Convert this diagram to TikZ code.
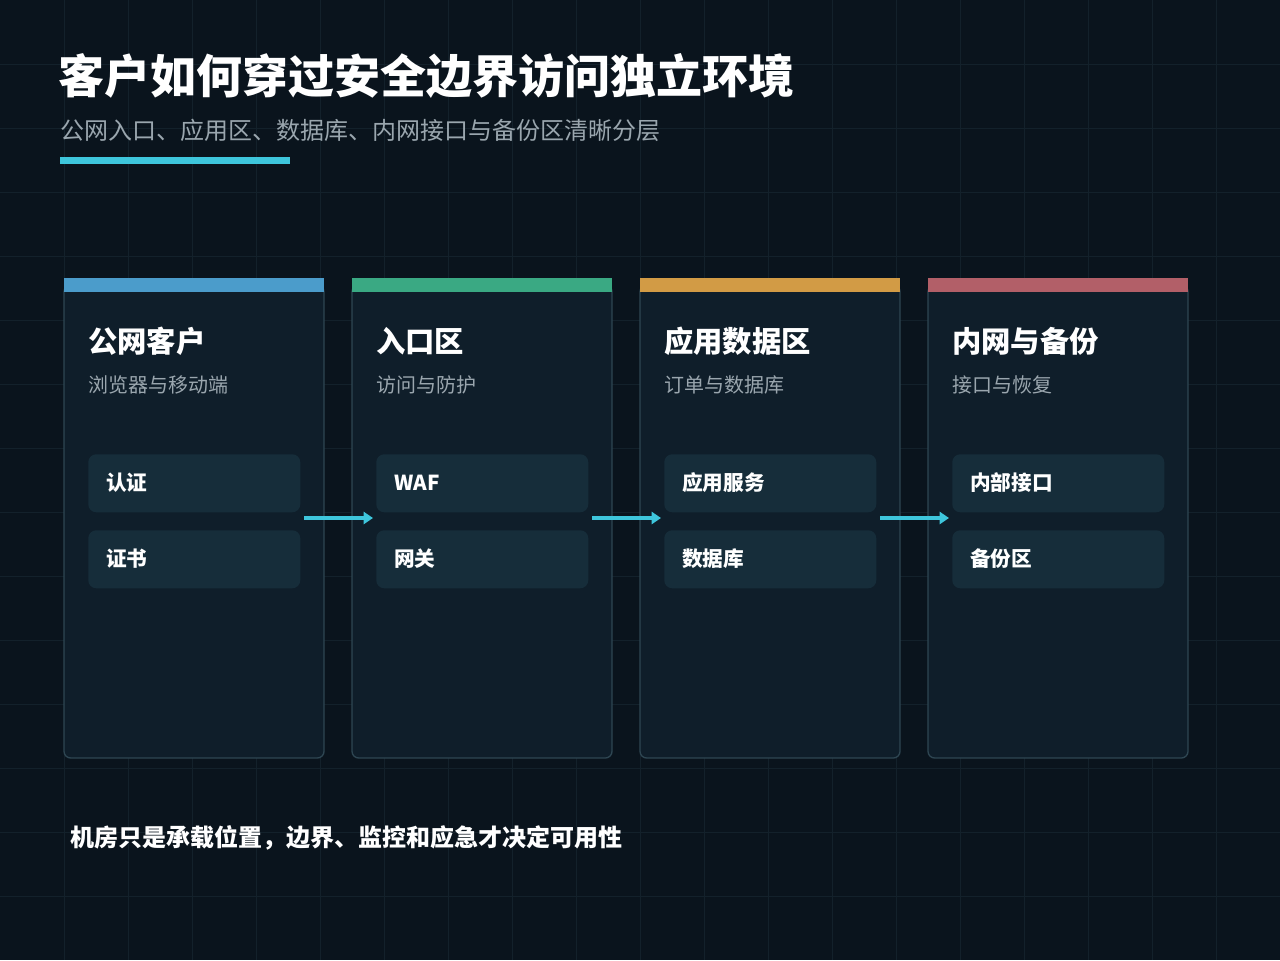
\documentclass[tikz,border=0pt]{standalone}
\usepackage{fontspec}
\setmainfont{Noto Sans CJK SC}
\usetikzlibrary{arrows.meta,calc}
\definecolor{bg}{HTML}{0A141D}
\definecolor{grid}{HTML}{13212B}
\definecolor{card}{HTML}{0F1E2A}
\definecolor{cardb}{HTML}{2E4652}
\definecolor{item}{HTML}{162D3A}
\definecolor{cyan}{HTML}{3EC6DC}
\definecolor{subt}{HTML}{9AA6AE}
\definecolor{cA}{HTML}{4B9CCB}
\definecolor{cB}{HTML}{3AA983}
\definecolor{cC}{HTML}{D29B45}
\definecolor{cD}{HTML}{B25F68}
\begin{document}
\begin{tikzpicture}[x=0.75pt,y=-0.75pt,
  card/.style={draw=cardb,line width=1pt,fill=card,rounded corners=5pt},
  itm/.style={fill=item,rounded corners=6pt},
  ttl/.style={anchor=west,text=white,font=\bfseries\fontsize{22}{25}\selectfont},
  sub/.style={anchor=west,text=subt,font=\fontsize{15}{18}\selectfont},
  itxt/.style={anchor=west,text=white,font=\bfseries\fontsize{15.5}{18}\selectfont},
  arr/.style={draw=cyan,line width=2.6pt,-{Triangle[length=7pt,width=9pt]}}]
\fill[bg] (0,0) rectangle (1280,960);
\useasboundingbox (0,0) rectangle (1280,960);
\foreach \i in {1,...,19} \draw[grid,line width=0.6pt] (\i*64,0) -- (\i*64,960);
\foreach \i in {1,...,14} \draw[grid,line width=0.6pt] (0,\i*64) -- (1280,\i*64);
\node[anchor=west,text=white,font=\bfseries\fontsize{34.5}{40}\selectfont,inner sep=0] (title) at (58,76) {客户如何穿过安全边界访问独立环境};
\node[anchor=west,text=subt,font=\fontsize{18}{22}\selectfont,inner sep=0] (subtitle) at (60,130) {公网入口、应用区、数据库、内网接口与备份区清晰分层};
\fill[cyan] (60,157) rectangle (290,164);
\foreach \x/\c/\t/\s/\a/\b/\n in {64/cA/公网客户/浏览器与移动端/认证/证书/1, 352/cB/入口区/访问与防护/WAF/网关/2, 640/cC/应用数据区/订单与数据库/应用服务/数据库/3, 928/cD/内网与备份/接口与恢复/内部接口/备份区/4}{
  \draw[card] (\x,285) rectangle (\x+260,758);
  \fill[\c] (\x,278) rectangle (\x+260,292);
  \node[ttl,inner sep=0] (t\n) at (\x+24,341) {\t};
  \node[sub,inner sep=0] (s\n) at (\x+24,385) {\s};
  \node[itm,minimum width=212pt*0.75,minimum height=58pt*0.75,anchor=north west] (a\n) at (\x+24,454) {};
  \node[itm,minimum width=212pt*0.75,minimum height=58pt*0.75,anchor=north west] (b\n) at (\x+24,530) {};
  \node[itxt,inner sep=0] at (\x+42,483) {\a};
  \node[itxt,inner sep=0] at (\x+42,559) {\b};
  \coordinate (o\n) at (\x+240,518);
  \coordinate (e\n) at (\x+21,518);
}
\draw[arr] (o1) -- (e2);
\draw[arr] (o2) -- (e3);
\draw[arr] (o3) -- (e4);
\node[anchor=west,text=white,font=\bfseries\fontsize{18}{21}\selectfont,inner sep=0] (foot) at (70,838) {机房只是承载位置，边界、监控和应急才决定可用性};
\end{tikzpicture}
\end{document}
